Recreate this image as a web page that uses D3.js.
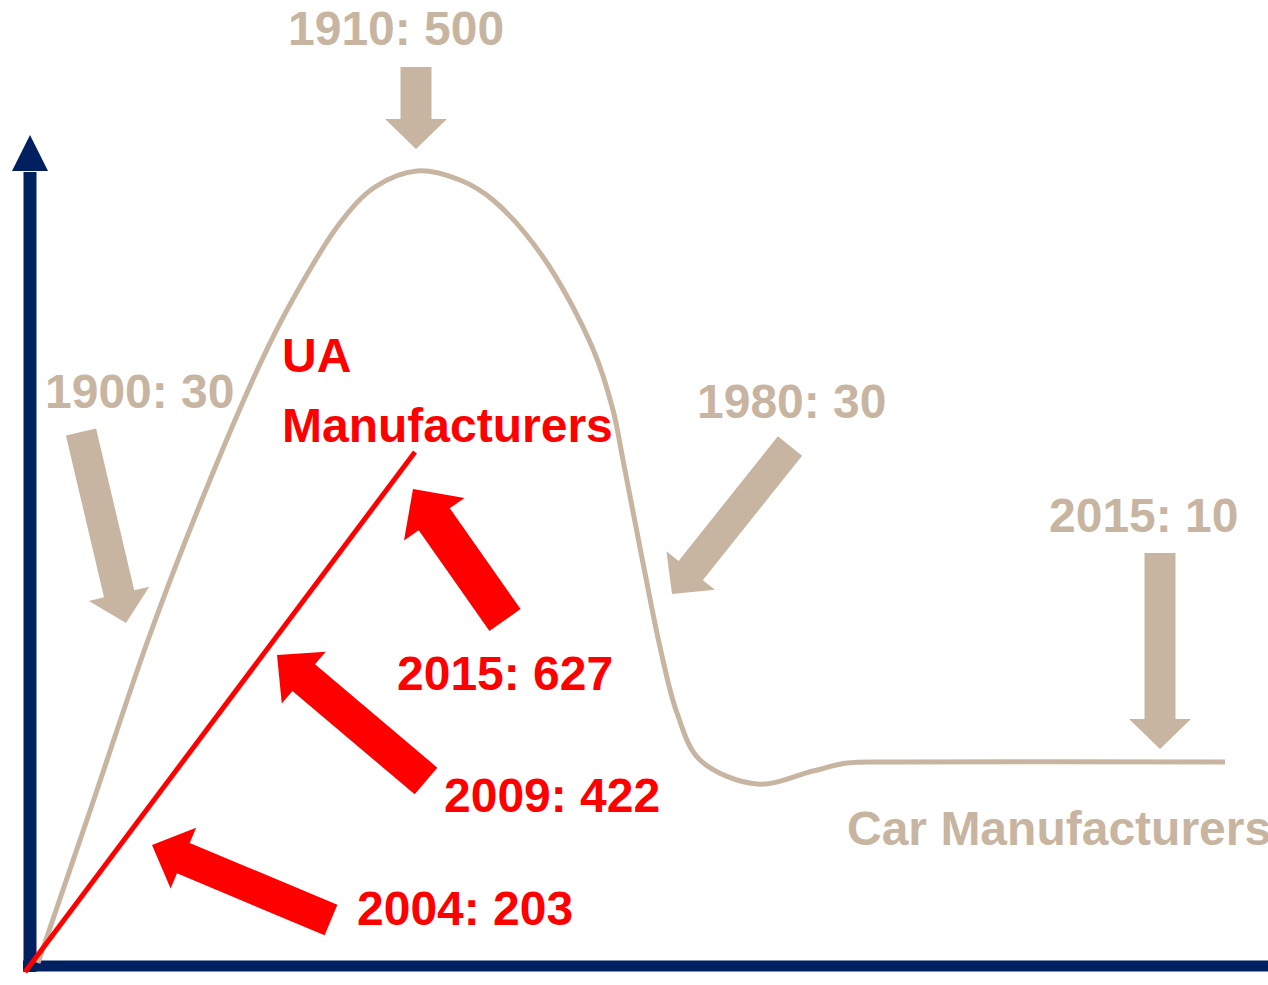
<!DOCTYPE html>
<html lang="en">
<head>
    <meta charset="UTF-8">
    <title>Car vs UA Manufacturers</title>
    <script src="https://d3js.org/d3.v7.min.js"></script>
    <style>
        html, body { margin: 0; padding: 0; background: #fff; }
        svg { display: block; }
        .lbl { font-family: "Liberation Sans", Arial, sans-serif; font-weight: bold; font-size: 48px; }
    </style>
</head>
<body>
<svg id="chart"></svg>
<script>
    // conceptual units: x = distance along the time axis, y = height above the x axis
    const carCurve = [
        [8, 3], [62, 161], [118, 326], [173, 469], [230, 602], [263, 667],
        [310, 743], [345, 779], [387, 795], [430, 786], [463, 766], [513, 709],
        [563, 617], [583, 556], [593, 506], [613, 403], [630, 319], [647, 253],
        [670, 206], [727, 182], [783, 195], [817, 203], [870, 204], [1195, 204]
    ];
    const uaLine = [[-5, -6], [385, 514]];

    // car manufacturer annotations: label, label anchor, arrow tail, arrow tip
    const carLabels = ["1900: 30", "1910: 500", "1980: 30", "2015: 10", "Car Manufacturers"];
    const carLabelPos = [[15, 558], [258, 921], [667, 548], [1019, 434], [817, 121]];
    const carArrows = [
        [[51, 534], [96, 343]],
        [[386, 899], [386, 817]],
        [[760, 520], [642, 372]],
        [[1130, 413], [1130, 217]]
    ];

    const uaLabels = ["UA", "Manufacturers", "2015: 627", "2009: 422", "2004: 203"];
    const uaLabelPos = [[252, 594], [252, 524], [367, 276], [414, 154], [327, 41]];
    const uaArrows = [
        [[475, 346], [383, 477]],
        [[396, 185], [247, 311]],
        [[301, 46], [122, 121]]
    ];

    const W = 1268, H = 985;
    const tan = "#c8b5a1", red = "#ff0000", navy = "#002060";

    const svg = d3.select("#chart").attr("width", W).attr("height", H);

    const x = d3.scaleLinear().domain([0, 1238]).range([30, 1268]);
    const y = d3.scaleLinear().domain([0, 831]).range([966, 135]);

    // axes
    svg.append("line")
        .attr("x1", x(0)).attr("x2", x(0))
        .attr("y1", y(-6)).attr("y2", y(794))
        .attr("stroke", navy).attr("stroke-width", 13);
    svg.append("path")
        .attr("d", `M${x(0)},${y(831)} L${x(0) + 18},${y(795)} L${x(0) - 18},${y(795)} Z`)
        .attr("fill", navy);
    svg.append("line")
        .attr("x1", x(-7)).attr("x2", W)
        .attr("y1", y(0)).attr("y2", y(0))
        .attr("stroke", navy).attr("stroke-width", 11);
    // tip of a second axis arrow that is cut off at the right edge
    svg.append("path")
        .attr("d", `M${x(1256)},${y(804)} L${x(1274)},${y(768)} L${x(1238)},${y(768)} Z`)
        .attr("fill", navy);

    // car curve
    const line = d3.line()
        .x(d => x(d[0]))
        .y(d => y(d[1]))
        .curve(d3.curveCatmullRom.alpha(0.5));

    svg.append("path")
        .datum(carCurve)
        .attr("d", line)
        .attr("fill", "none")
        .attr("stroke", tan)
        .attr("stroke-width", 5);

    // UA line
    svg.append("path")
        .datum(uaLine)
        .attr("d", d3.line().x(d => x(d[0])).y(d => y(d[1])))
        .attr("fill", "none")
        .attr("stroke", red)
        .attr("stroke-width", 5);

    // block arrow polygon from tail to tip
    function arrowPath(a, w, hw, hl) {
        const x1 = x(a[0][0]), y1 = y(a[0][1]);
        const x2 = x(a[1][0]), y2 = y(a[1][1]);
        const len = Math.hypot(x2 - x1, y2 - y1);
        const ux = (x2 - x1) / len, uy = (y2 - y1) / len;
        const nx = -uy, ny = ux;
        const bx = x2 - ux * hl, by = y2 - uy * hl;
        const pts = [
            [x1 + nx * w / 2, y1 + ny * w / 2],
            [bx + nx * w / 2, by + ny * w / 2],
            [bx + nx * hw / 2, by + ny * hw / 2],
            [x2, y2],
            [bx - nx * hw / 2, by - ny * hw / 2],
            [bx - nx * w / 2, by - ny * w / 2],
            [x1 - nx * w / 2, y1 - ny * w / 2]
        ];
        return "M" + pts.map(p => p.join(",")).join("L") + "Z";
    }

    svg.selectAll(".car-arrow")
        .data(carArrows)
        .enter().append("path")
        .attr("class", "car-arrow")
        .attr("d", d => arrowPath(d, 31, 62, 30))
        .attr("fill", tan);

    const uaSizes = [[38, 74, 37], [35, 68, 35], [33, 66, 34]];
    svg.selectAll(".ua-arrow")
        .data(uaArrows)
        .enter().append("path")
        .attr("class", "ua-arrow")
        .attr("d", (d, i) => arrowPath(d, ...uaSizes[i]))
        .attr("fill", red);

    // labels
    svg.selectAll(".car-lbl")
        .data(carLabels)
        .enter().append("text")
        .attr("class", "lbl car-lbl")
        .attr("x", (d, i) => x(carLabelPos[i][0]))
        .attr("y", (d, i) => y(carLabelPos[i][1]))
        .attr("fill", tan)
        .text(d => d);

    svg.selectAll(".ua-lbl")
        .data(uaLabels)
        .enter().append("text")
        .attr("class", "lbl ua-lbl")
        .attr("x", (d, i) => x(uaLabelPos[i][0]))
        .attr("y", (d, i) => y(uaLabelPos[i][1]))
        .attr("fill", red)
        .text(d => d);
</script>
</body>
</html>
